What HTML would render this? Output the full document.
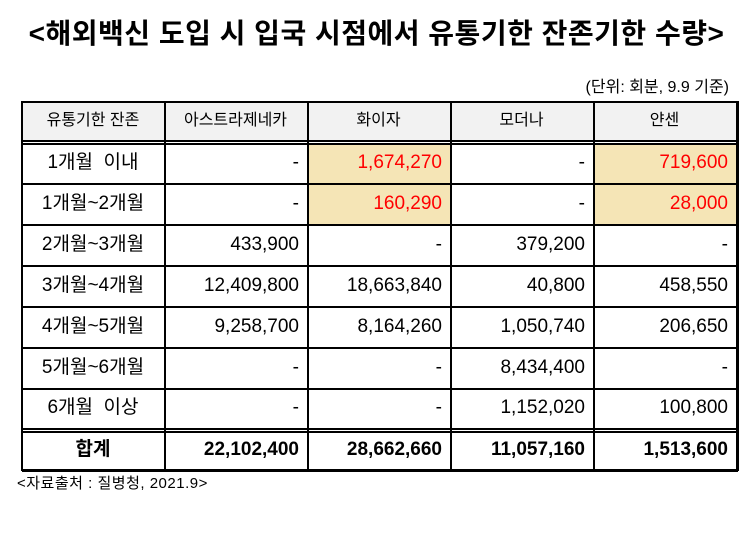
<!DOCTYPE html>
<html><head><meta charset="utf-8"><style>
body{margin:0;width:753px;height:541px;background:#fff;position:relative;overflow:hidden;font-family:"Liberation Sans","Noto Sans CJK KR","NanumGothic",sans-serif;color:#000}
.a{position:absolute}
.h{position:absolute;height:1.5px;background:#000}
.v{position:absolute;width:1.5px;background:#000}
.c{position:absolute;font-size:19px;line-height:40px;height:40px;white-space:nowrap}
.r{text-align:right}
.m{text-align:center}
.red{color:#f00}
.hd{font-size:16px}
.b{font-weight:bold}
</style></head><body>
<div class="a" style="left:0;width:753px;top:12px;text-align:center;font-size:28px;font-weight:bold;letter-spacing:0.5px">&lt;해외백신 도입 시 입국 시점에서 유통기한 잔존기한 수량&gt;</div>
<div class="a" style="right:24px;top:73px;font-size:16px">(단위: 회분, 9.9 기준)</div>
<div class="a" style="left:22px;top:101px;width:715px;height:40px;background:#f2f2f2"></div>
<div class="a" style="left:307px;top:143px;width:143px;height:82px;background:#f5e5b6"></div>
<div class="a" style="left:593px;top:143px;width:143px;height:82px;background:#f5e5b6"></div>
<div class="h" style="left:22px;width:716px;top:101px;height:2px"></div>
<div class="h" style="left:22px;width:716px;top:140px"></div>
<div class="h" style="left:22px;width:716px;top:143px"></div>
<div class="h" style="left:22px;width:716px;top:183px"></div>
<div class="h" style="left:22px;width:716px;top:224px"></div>
<div class="h" style="left:22px;width:716px;top:265px"></div>
<div class="h" style="left:22px;width:716px;top:306px"></div>
<div class="h" style="left:22px;width:716px;top:347px"></div>
<div class="h" style="left:22px;width:716px;top:388px"></div>
<div class="h" style="left:22px;width:716px;top:428px"></div>
<div class="h" style="left:22px;width:716px;top:431px"></div>
<div class="h" style="left:22px;width:716px;top:469px;height:2.5px"></div>
<div class="v" style="left:21px;top:101px;height:370px;width:2px"></div>
<div class="v" style="left:164px;top:101px;height:370px"></div>
<div class="v" style="left:307px;top:101px;height:370px"></div>
<div class="v" style="left:450px;top:101px;height:370px"></div>
<div class="v" style="left:593px;top:101px;height:370px"></div>
<div class="v" style="left:736px;top:101px;height:370px;width:2.5px"></div>
<div class="c m hd" style="left:22px;width:142px;top:101px">유통기한 잔존</div>
<div class="c m hd" style="left:164px;width:143px;top:101px">아스트라제네카</div>
<div class="c m hd" style="left:307px;width:143px;top:101px">화이자</div>
<div class="c m hd" style="left:450px;width:143px;top:101px">모더나</div>
<div class="c m hd" style="left:593px;width:143px;top:101px">얀센</div>

<div class="c m" style="left:22px;width:142px;top:143px">1개월 &nbsp;이내</div>
<div class="c r" style="left:164px;width:135px;top:143px">-</div>
<div class="c r red" style="left:307px;width:135px;top:143px">1,674,270</div>
<div class="c r" style="left:450px;width:135px;top:143px">-</div>
<div class="c r red" style="left:593px;width:135px;top:143px">719,600</div>

<div class="c m" style="left:22px;width:142px;top:184px">1개월~2개월</div>
<div class="c r" style="left:164px;width:135px;top:184px">-</div>
<div class="c r red" style="left:307px;width:135px;top:184px">160,290</div>
<div class="c r" style="left:450px;width:135px;top:184px">-</div>
<div class="c r red" style="left:593px;width:135px;top:184px">28,000</div>

<div class="c m" style="left:22px;width:142px;top:225px">2개월~3개월</div>
<div class="c r" style="left:164px;width:135px;top:225px">433,900</div>
<div class="c r" style="left:307px;width:135px;top:225px">-</div>
<div class="c r" style="left:450px;width:135px;top:225px">379,200</div>
<div class="c r" style="left:593px;width:135px;top:225px">-</div>

<div class="c m" style="left:22px;width:142px;top:266px">3개월~4개월</div>
<div class="c r" style="left:164px;width:135px;top:266px">12,409,800</div>
<div class="c r" style="left:307px;width:135px;top:266px">18,663,840</div>
<div class="c r" style="left:450px;width:135px;top:266px">40,800</div>
<div class="c r" style="left:593px;width:135px;top:266px">458,550</div>

<div class="c m" style="left:22px;width:142px;top:307px">4개월~5개월</div>
<div class="c r" style="left:164px;width:135px;top:307px">9,258,700</div>
<div class="c r" style="left:307px;width:135px;top:307px">8,164,260</div>
<div class="c r" style="left:450px;width:135px;top:307px">1,050,740</div>
<div class="c r" style="left:593px;width:135px;top:307px">206,650</div>

<div class="c m" style="left:22px;width:142px;top:348px">5개월~6개월</div>
<div class="c r" style="left:164px;width:135px;top:348px">-</div>
<div class="c r" style="left:307px;width:135px;top:348px">-</div>
<div class="c r" style="left:450px;width:135px;top:348px">8,434,400</div>
<div class="c r" style="left:593px;width:135px;top:348px">-</div>

<div class="c m" style="left:22px;width:142px;top:388px">6개월 &nbsp;이상</div>
<div class="c r" style="left:164px;width:135px;top:388px">-</div>
<div class="c r" style="left:307px;width:135px;top:388px">-</div>
<div class="c r" style="left:450px;width:135px;top:388px">1,152,020</div>
<div class="c r" style="left:593px;width:135px;top:388px">100,800</div>

<div class="c m b" style="left:22px;width:142px;top:430px">합계</div>
<div class="c r b" style="left:164px;width:135px;top:430px">22,102,400</div>
<div class="c r b" style="left:307px;width:135px;top:430px">28,662,660</div>
<div class="c r b" style="left:450px;width:135px;top:430px">11,057,160</div>
<div class="c r b" style="left:593px;width:135px;top:430px">1,513,600</div>

<div class="a" style="left:17px;top:472px;font-size:15px;letter-spacing:0.5px">&lt;자료출처 : 질병청, 2021.9&gt;</div>
</body></html>
